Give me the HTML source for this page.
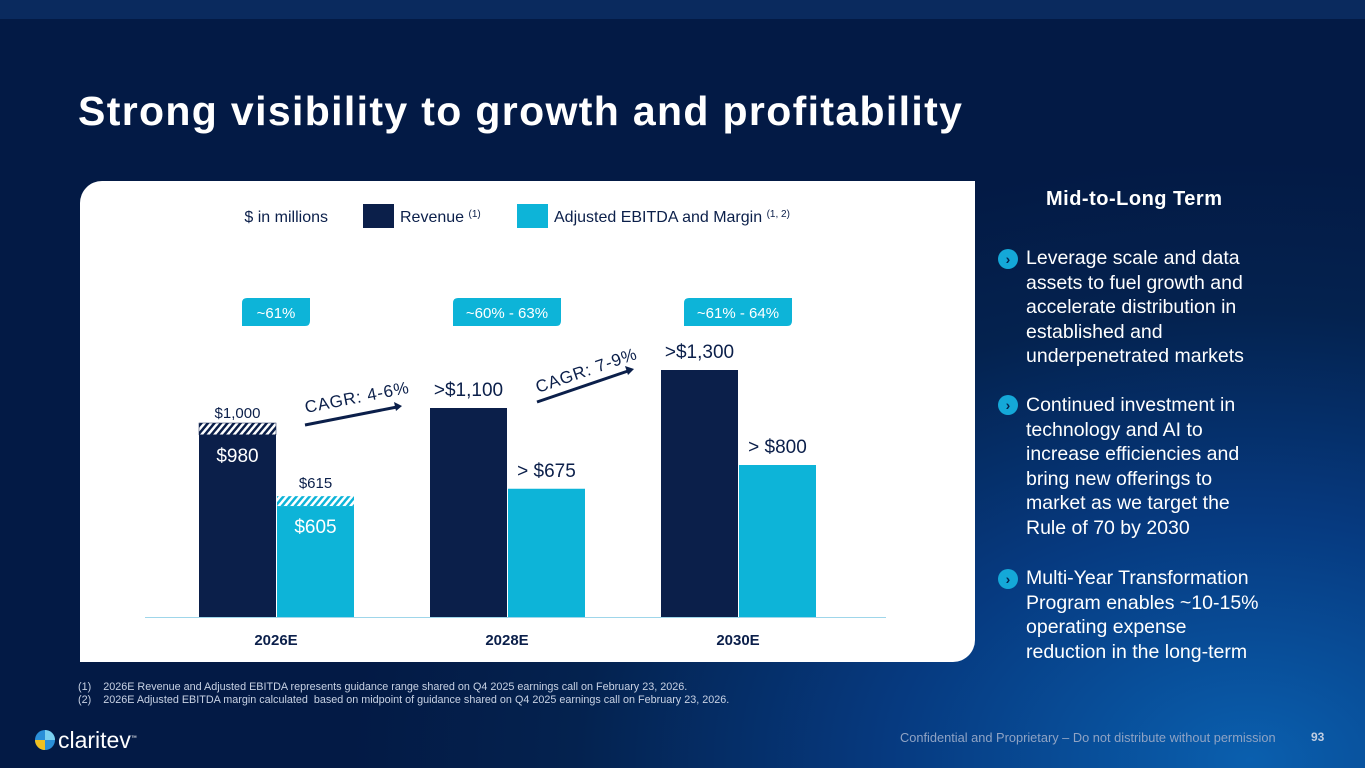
<!DOCTYPE html>
<html><head><meta charset="utf-8"><style>
*{margin:0;padding:0;box-sizing:border-box}
body{width:1365px;height:768px;overflow:hidden;font-family:"Liberation Sans",sans-serif;position:relative;
background:radial-gradient(ellipse 900px 600px at 1250px 760px,#0a5fae 0%,#063a80 40%,#04224f 75%,#031a45 100%);}
.topbar{position:absolute;left:0;top:0;width:1365px;height:19px;background:#0a2a5e}
h1{position:absolute;left:78px;top:88px;font-size:41px;font-weight:bold;color:#fff;letter-spacing:1.35px}
.panel{position:absolute;left:80px;top:181px;width:895px;height:481px;background:#fff;border-radius:22px 0 22px 0}
.t{position:absolute;white-space:nowrap}
.side{position:absolute;left:1026px;color:#fff;font-size:19.5px;line-height:24.5px;width:240px}
.chev{position:absolute;left:998px;width:20px;height:20px;border-radius:50%;background:#14a8d8;color:#04224f;font-size:14px;font-weight:bold;text-align:center;line-height:20px}
.foot{position:absolute;left:78px;font-size:10.8px;color:#c8d2e4}
</style></head><body>
<div class="topbar"></div>
<h1>Strong visibility to growth and profitability</h1>
<div class="panel"></div>
<svg id="chart" width="1365" height="768" style="position:absolute;left:0;top:0">
<defs>
<pattern id="hatchN" width="5" height="5" patternUnits="userSpaceOnUse" patternTransform="rotate(40)"><rect width="5" height="5" fill="#fff"/><rect width="2.5" height="5" fill="#0b1f4a"/></pattern>
<pattern id="hatchC" width="5" height="5" patternUnits="userSpaceOnUse" patternTransform="rotate(40)"><rect width="5" height="5" fill="#fff"/><rect width="2.5" height="5" fill="#0db4d8"/></pattern></defs>
<text x="328" y="222" font-size="16" fill="#0b1f4a" text-anchor="end">$ in millions</text>
<rect x="363" y="204" width="31" height="24" fill="#0b1f4a"/>
<text x="400" y="222" font-size="16" fill="#0b1f4a">Revenue <tspan font-size="10" dy="-5">(1)</tspan></text>
<rect x="517" y="204" width="31" height="24" fill="#0db4d8"/>
<text x="554" y="222" font-size="16" fill="#0b1f4a">Adjusted EBITDA and Margin <tspan font-size="10" dy="-5">(1, 2)</tspan></text>
<line x1="145" y1="617.5" x2="886" y2="617.5" stroke="#9fd6ea" stroke-width="1"/>
<g id="marks"></g>
<line x1="305" y1="425" x2="397" y2="407" stroke="#0b1f4a" stroke-width="3"/>
<polygon points="402,406 394,402 396,411" fill="#0b1f4a"/>
<text x="306" y="413" font-size="17" fill="#0b1f4a" letter-spacing="0.8" transform="rotate(-11 306 413)">CAGR: 4-6%</text>
<line x1="537" y1="402" x2="628" y2="371" stroke="#0b1f4a" stroke-width="3"/>
<polygon points="634,369 625,366 628,375" fill="#0b1f4a"/>
<text x="538" y="393" font-size="17" fill="#0b1f4a" letter-spacing="0.8" transform="rotate(-19 538 393)">CAGR: 7-9%</text>
</svg>
<div class="t" style="left:1046px;top:188px;font-size:20px;font-weight:bold;color:#fff;letter-spacing:0.5px">Mid-to-Long Term</div>
<div class="chev" style="top:249px">&#8250;</div>
<div class="side" style="top:246px">Leverage scale and data assets to fuel growth and accelerate distribution in established and underpenetrated markets</div>
<div class="chev" style="top:395px">&#8250;</div>
<div class="side" style="top:393px">Continued investment in technology and AI to increase efficiencies and bring new offerings to market as we target the Rule of 70 by 2030</div>
<div class="chev" style="top:569px">&#8250;</div>
<div class="side" style="top:566px">Multi-Year Transformation Program enables ~10-15% operating expense reduction in the long-term</div>
<div class="foot" style="top:681px">(1)&nbsp;&nbsp;&nbsp; 2026E Revenue and Adjusted EBITDA represents guidance range shared on Q4 2025 earnings call on February 23, 2026.</div>
<div class="foot" style="top:694px">(2)&nbsp;&nbsp;&nbsp; 2026E Adjusted EBITDA margin calculated&nbsp; based on midpoint of guidance shared on Q4 2025 earnings call on February 23, 2026.</div>
<svg style="position:absolute;left:34px;top:729px" width="22" height="22"><circle cx="11" cy="11" r="10" fill="#2a8fd8"/><path d="M11 1 A10 10 0 0 1 21 11 L11 11Z" fill="#7ad0f0"/><path d="M11 21 A10 10 0 0 1 1 11 L11 11Z" fill="#f0c020"/></svg>
<div class="t" style="left:58px;top:727px;font-size:23px;color:#fff">claritev<sup style="font-size:6px">™</sup></div>
<div class="t" style="left:900px;top:730px;font-size:12.8px;color:#8fa3c4">Confidential and Proprietary – Do not distribute without permission</div>
<div class="t" style="left:1311px;top:730px;font-size:12px;color:#c0cde2;font-weight:bold">93</div>
<script>
const categories=["2026E","2028E","2030E"];
const revenueLow=[980,1100,1300];
const revenueHigh=[1000,null,null];
const ebitdaLow=[605,675,800];
const ebitdaHigh=[615,null,null];
const revenueLabels=["$980",">$1,100",">$1,300"];
const revenueHighLabels=["$1,000","",""];
const ebitdaLabels=["$605","> $675","> $800"];
const ebitdaHighLabels=["$615","",""];
const margins=["~61%","~60% - 63%","~61% - 64%"];
const NS="http://www.w3.org/2000/svg";
const base=617,k=0.19,bw=77;
const y=v=>base-v*k;
const gx=i=>199+i*231;
const g=document.getElementById('marks');
function mk(tag,at,txt){const e=document.createElementNS(NS,tag);for(const a in at)e.setAttribute(a,at[a]);if(txt!=null)e.textContent=txt;g.appendChild(e);return e;}
categories.forEach((c,i)=>{
 const x=gx(i),x2=x+bw+1;
 let el;
 if(revenueHigh[i]){const top=y(revenueHigh[i])-4;el=mk('rect',{x:x,y:top,width:bw,height:y(revenueLow[i])+4-top,fill:'url(#hatchN)',stroke:'#0b1f4a','stroke-width':0.5});
  
  }
 const rTop=revenueHigh[i]?y(revenueLow[i])+4:y(revenueLow[i]);
 el=mk('rect',{x:x,y:rTop,width:bw,height:base-rTop,fill:'#0b1f4a'});
 
 
 if(ebitdaHigh[i]){const top=y(ebitdaHigh[i])-4;el=mk('rect',{x:x2,y:top,width:bw,height:y(ebitdaLow[i])+4-top,fill:'url(#hatchC)'});
  
  }
 const eTop=ebitdaHigh[i]?y(ebitdaLow[i])+4:y(ebitdaLow[i]);
 el=mk('rect',{x:x2,y:eTop,width:bw,height:base-eTop,fill:'#0db4d8'});
 
 
 if(revenueHigh[i]){
  el=mk('text',{x:x+bw/2,y:y(revenueLow[i])+31,'font-size':19,fill:'#fff','text-anchor':'middle'},revenueLabels[i]);
  
  el=mk('text',{x:x+bw/2,y:y(revenueHigh[i])-9,'font-size':15,fill:'#0b1f4a','text-anchor':'middle'},revenueHighLabels[i]);
  
  el=mk('text',{x:x2+bw/2,y:y(ebitdaLow[i])+31,'font-size':19,fill:'#fff','text-anchor':'middle'},ebitdaLabels[i]);
  
  el=mk('text',{x:x2+bw/2,y:y(ebitdaHigh[i])-12,'font-size':15,fill:'#0b1f4a','text-anchor':'middle'},ebitdaHighLabels[i]);
  
 }else{
  el=mk('text',{x:x+bw/2,y:y(revenueLow[i])-12,'font-size':19,fill:'#0b1f4a','text-anchor':'middle'},revenueLabels[i]);
  
  el=mk('text',{x:x2+bw/2,y:y(ebitdaLow[i])-12,'font-size':19,fill:'#0b1f4a','text-anchor':'middle'},ebitdaLabels[i]);
  
 }
 el=mk('text',{x:x+bw,y:645,'font-size':15,'font-weight':'bold',fill:'#0b1f4a','text-anchor':'middle'},c);
 
 const pw=i==0?68:108,cx=x+bw;
 el=mk('path',{d:`M${cx-pw/2} 303 Q${cx-pw/2} 298 ${cx-pw/2+5} 298 L${cx+pw/2} 298 L${cx+pw/2} 321 Q${cx+pw/2} 326 ${cx+pw/2-5} 326 L${cx-pw/2} 326 Z`,fill:'#0db4d8'});
 
 el=mk('text',{x:cx,y:318,'font-size':15,fill:'#fff','text-anchor':'middle'},margins[i]);
 
});
</script>
</body></html>
